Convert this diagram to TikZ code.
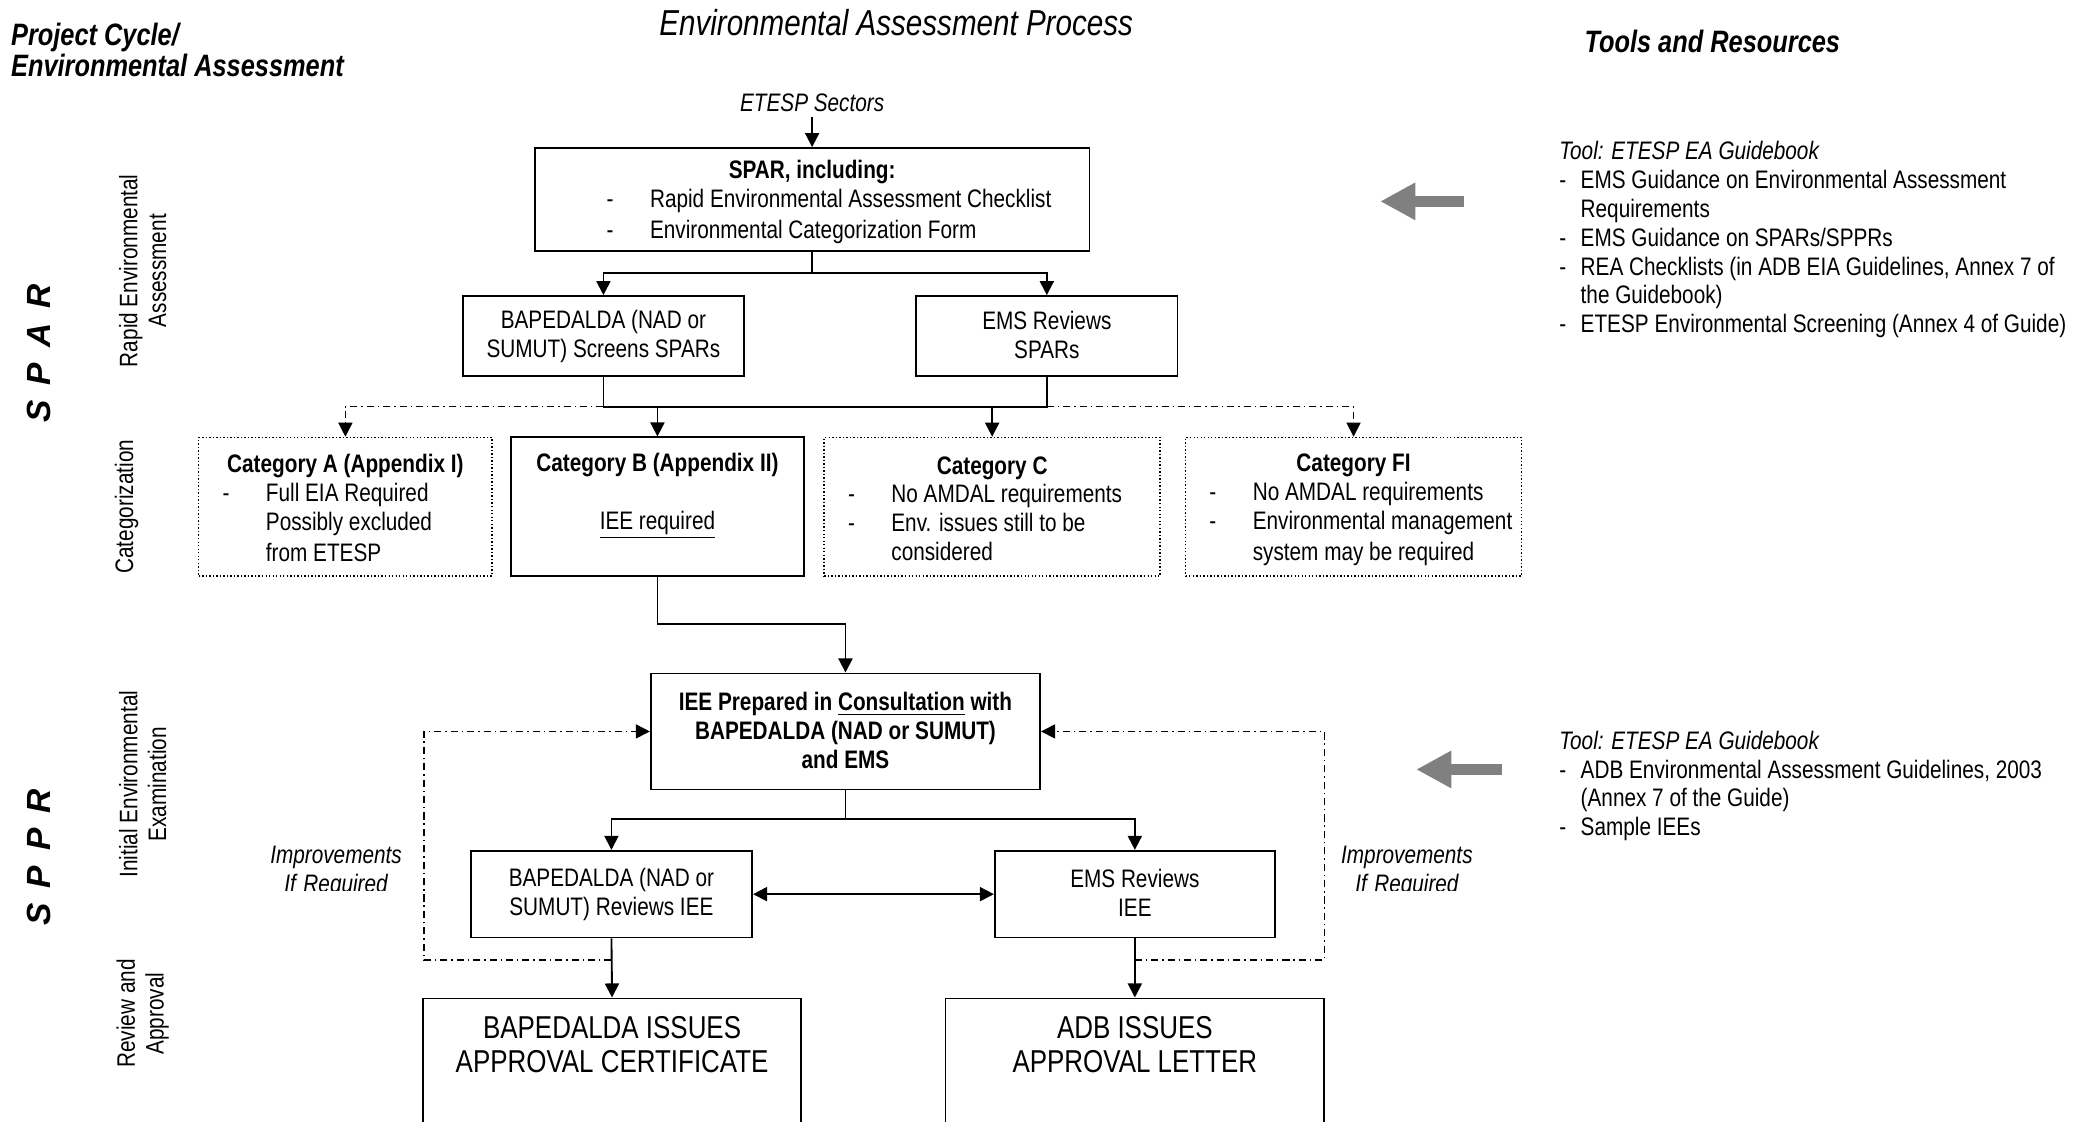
\documentclass[tikz,border=0pt]{standalone}
\usepackage{fontspec}
\setmainfont{Liberation Sans}[FakeStretch=0.82]
\newfontfamily\sparfont{Liberation Sans}[WordSpace=1.6]
\usetikzlibrary{arrows.meta, positioning}

\newcommand{\txtfont}{\fontsize{10.8}{12.3}\selectfont}
\newcommand{\hdrfont}{\fontsize{13.2}{13.1}\selectfont\bfseries\itshape}
\newcommand{\issfont}{\fontsize{13.5}{14.8}\selectfont}
\newcommand{\natspace}{\spaceskip=0pt\xspaceskip=0pt\relax}
\newcommand{\boxstrut}{\natspace\rule[-1.1pt]{0pt}{11.2pt}}
\newcommand{\lastrut}{\rule[-1.1pt]{0pt}{11.2pt}}
\newcommand{\dashline}[2]{\hspace*{#1}\makebox[18.5pt][l]{-}#2}
\newcommand{\tooldash}{\makebox[9.1pt][l]{-}}
\newcommand{\boxtitle}[1]{\makebox[\linewidth]{\bfseries #1}}

\begin{document}
\begin{tikzpicture}[x=0.02cm,y=-0.02cm,
  every node/.style={inner sep=0pt, font=\txtfont, execute at begin node=\natspace},
  box/.style={draw, line width=0.8pt, align=center, execute at begin node=\boxstrut, execute at end node=\lastrut},
  listbox/.style={box, align=left, minimum height=2.08cm},
  dotbox/.style={listbox, line width=0.6pt, dash pattern=on 0.6pt off 0.9pt},
  vlab/.style={rotate=90, align=center},
  conn/.style={line width=0.8pt},
  arr/.style={line width=0.8pt, -{Triangle[length=6pt,width=6pt]}},
  arr2/.style={line width=0.8pt, {Triangle[length=6pt,width=6pt]}-{Triangle[length=6pt,width=6pt]}},
  ddarr/.style={line width=0.6pt, dash pattern=on 3pt off 1.7pt on 0.6pt off 1.7pt, -{Triangle[length=6pt,width=6pt]}},
  big arrow/.style={line width=5pt, black!50, -{Triangle[length=15pt,width=15pt]}}]
\useasboundingbox (0,0) rectangle (1568,841);
\clip (0,0) rectangle (1568,841);

% headings
\node[font=\hdrfont, text width=6cm, align=left, anchor=base west] (cyc) at (8,34) {Project Cycle/\\Environmental Assessment};
\node[font=\fontsize{15.4}{17}\selectfont\itshape, anchor=base] (proc) at (672,26.5) {Environmental Assessment Process};
\node[font=\hdrfont, anchor=base] (tools) at (1284,39.3) {Tools and Resources};

% phases
\node[font=\sparfont\fontsize{14.3}{16}\selectfont\bfseries\itshape, rotate=90] (sparL) at (29,265) {S P A R};
\node[font=\sparfont\fontsize{14.3}{16}\selectfont\bfseries\itshape, rotate=90] (spprL) at (29,643) {S P P R};
\node[vlab] (rea) at (107,203) {Rapid Environmental\\Assessment};
\node[vlab] (catg) at (95,380) {Categorization};
\node[vlab] (iex) at (107,588) {Initial Environmental\\Examination};
\node[vlab] (rev) at (107,760) {Review and\\Approval};

% SPAR
\node[font=\txtfont\itshape, anchor=base, inner sep=2pt] (sect) at (609,83.8) {ETESP Sectors};
\node[box, text width=8.32cm, minimum height=1.54cm, align=left] (spar) at (609,149.5) {\boxtitle{SPAR, including:}\\
  \dashline{30.7pt}{Rapid Environmental Assessment Checklist}\\
  \dashline{30.7pt}{Environmental Categorization Form}};
\node[box, minimum width=4.22cm, minimum height=1.2cm] (scrA) at (452.5,252) {BAPEDALDA (NAD or\\SUMUT) Screens SPARs};
\node[box, minimum width=3.92cm, minimum height=1.2cm] (scrB) at (785,252) {EMS Reviews\\SPARs};

\node[dotbox, text width=4.4cm] (catA) at (259,380) {\boxtitle{Category A (Appendix I)}\\
  \dashline{10.2pt}{Full EIA Required}\\ \hspace*{28.7pt}Possibly excluded\\ \hspace*{28.7pt}from ETESP};
\node[box, minimum width=4.4cm, minimum height=2.08cm] (catB) at (493,380) {\textbf{Category B (Appendix II)}\\[12.3pt]\underline{IEE required}\\ \mbox{}};
\node[dotbox, text width=5.04cm] (catC) at (744,380) {\boxtitle{Category C}\\
  \dashline{10.2pt}{No AMDAL requirements}\\ \dashline{10.2pt}{Env. issues still to be}\\ \hspace*{28.7pt}considered};
\node[dotbox, text width=5.04cm] (catF) at (1015,380) {\boxtitle{Category FI}\\
  \dashline{10.2pt}{No AMDAL requirements}\\ \dashline{10.2pt}{Environmental management}\\ \hspace*{28.7pt}system may be required};

% SPPR
\node[box, font=\txtfont\bfseries, minimum width=5.84cm, minimum height=1.74cm] (iee) at (634,548.5) {IEE Prepared in \underline{Consultation} with\\BAPEDALDA (NAD or SUMUT)\\and EMS};
\node[box, minimum width=4.22cm, minimum height=1.3cm] (revA) at (458.5,670.5) {BAPEDALDA (NAD or\\SUMUT) Reviews IEE};
\node[box, minimum width=4.2cm, minimum height=1.3cm] (revB) at (851,670.5) {EMS Reviews\\IEE};
\node[box, minimum width=5.68cm, minimum height=3cm, anchor=north] (issA) at (459,748) {};
\node[box, minimum width=5.68cm, minimum height=3cm, anchor=north] (issB) at (851,748) {};
\node[font=\issfont, align=center, below=7.7pt of issA.north] (issAt) {BAPEDALDA ISSUES\\APPROVAL CERTIFICATE};
\node[font=\issfont, align=center, below=7.7pt of issB.north] (issBt) {ADB ISSUES\\APPROVAL LETTER};

\begin{scope}
\clip (150,600) rectangle (1120,667.5);
\node[font=\txtfont\itshape, text width=2.5cm, align=center, anchor=base] (impA) at (252,647.6) {Improvements\\If Required};
\node[font=\txtfont\itshape, text width=2.5cm, align=center, anchor=base] (impB) at (1055,647.6) {Improvements\\If Required};
\end{scope}

% connectors
\coordinate (j1) at (609,205);
\coordinate (j2) at (0,305);
\coordinate (j3) at (634,614);
\coordinate (lp) at (0,720);
\coordinate (loopL) at (318,720);
\coordinate (loopR) at (993,720);
\draw[arr] (sect) -- (spar);
\draw[conn] (spar.south) -- (j1);
\draw[arr] (j1) -| (scrA.north);
\draw[arr] (j1) -| (scrB.north);
\draw[conn] (scrA.south) -- (scrA.south |- j2) -- (scrB.south |- j2) -- (scrB.south);
\draw[arr] (catB.north |- j2) -- (catB.north);
\draw[arr] (catC.north |- j2) -- (catC.north);
\draw[ddarr] (scrA.south |- j2) -| (catA.north);
\draw[ddarr] (scrB.south |- j2) -| (catF.north);
\draw[arr] (catB.south) -- ++(0,35) -| (iee.north);
\draw[conn] (iee.south) -- (j3);
\draw[arr] (j3) -| (revA.north);
\draw[arr] (j3) -| (revB.north);
\draw[arr2] (revA.east) -- (revB.west);
\draw[arr] (revA.south) -- (issA.north);
\draw[arr] (revB.south) -- (issB.north);
\draw[ddarr] (revA.south |- lp) -- (loopL) |- (iee.west);
\draw[ddarr] (revB.south |- lp) -- (loopR) |- (iee.east);

% tools and resources
\coordinate (gA1) at (1098,151);
\coordinate (gA2) at (1035,151);
\coordinate (gB1) at (1126,577);
\coordinate (gB2) at (1062,577);
\draw[big arrow] (gA1) -- (gA2);
\draw[big arrow] (gB1) -- (gB2);
\node[text width=8cm, align=left, anchor=base west] (toolA) at (1169,119.8) {\textit{Tool: ETESP EA Guidebook}\\
  \tooldash EMS Guidance on Environmental Assessment\\ \hspace*{9.1pt}Requirements\\
  \tooldash EMS Guidance on SPARs/SPPRs\\
  \tooldash REA Checklists (in ADB EIA Guidelines, Annex 7 of\\ \hspace*{9.1pt}the Guidebook)\\
  \tooldash ETESP Environmental Screening (Annex 4 of Guide)};
\node[text width=8cm, align=left, anchor=base west] (toolB) at (1169,561.8) {\textit{Tool: ETESP EA Guidebook}\\
  \tooldash ADB Environmental Assessment Guidelines, 2003\\ \hspace*{9.1pt}(Annex 7 of the Guide)\\
  \tooldash Sample IEEs};
\end{tikzpicture}
\end{document}
